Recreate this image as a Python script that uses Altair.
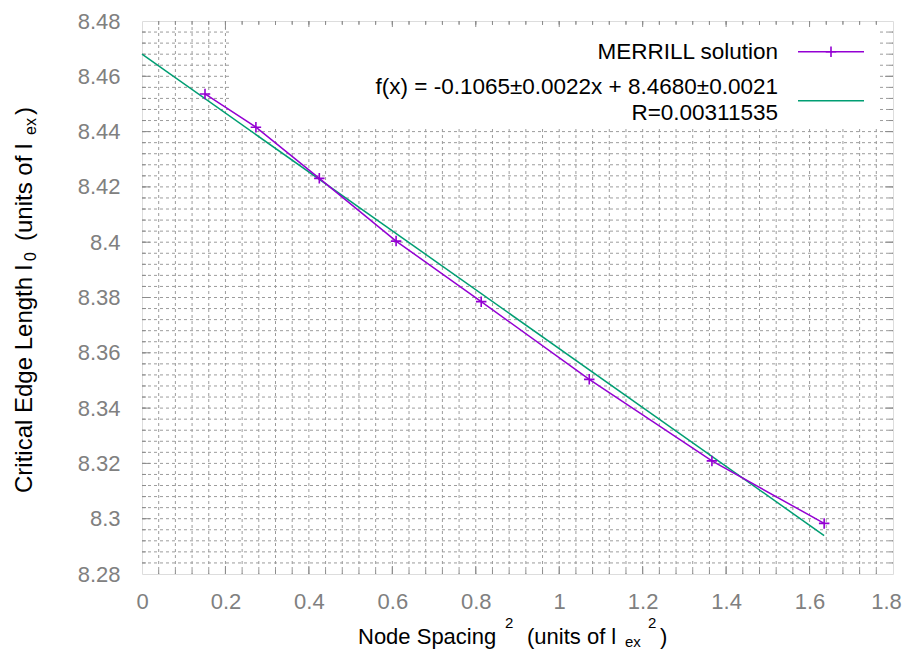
import altair as alt
import pandas as pd

# ---------------- data ----------------
merrill_x = [0.151, 0.273, 0.425, 0.609, 0.813, 1.072, 1.366, 1.635]
merrill_y = [8.4536, 8.4416, 8.4231, 8.4004, 8.3785, 8.3504, 8.3209, 8.2983]
fit_x = [0.0, 1.635]
fit_y = [8.4680, 8.2939]

x_major = [0, 0.2, 0.4, 0.6, 0.8, 1.0, 1.2, 1.4, 1.6, 1.8]
y_major = [8.28, 8.30, 8.32, 8.34, 8.36, 8.38, 8.40, 8.42, 8.44, 8.46, 8.48]
x_minor = [round(0.04 * i, 2) for i in range(1, 45)]
y_minor = [round(8.28 + 0.004 * i, 3) for i in range(1, 50)]

legend_main = "MERRILL solution"
legend_fit1 = "f(x) = -0.1065\u00b10.0022x + 8.4680\u00b10.0021"
legend_fit2 = "R=0.00311535"

# ---------------- style ----------------
W, H = 751, 553
FONT = "Liberation Sans"
PURPLE = "#9400d3"
GREEN = "#009e73"
GRID = "#9c9c9c"
BORDER = "#8c8c8c"
LABEL = "#808080"
PLUS = "M-1,0L1,0M0,-1L0,1"

xs = alt.Scale(domain=[0, 1.8], nice=False, zero=False)
ys = alt.Scale(domain=[8.28, 8.48], nice=False, zero=False)
ax_x = alt.Axis(values=x_major, format="~g", title=None, grid=False, ticks=False,
                domain=False, labelFont=FONT, labelFontSize=22, labelColor=LABEL,
                labelPadding=27, labelBaseline="middle", labelFlush=False,
                labelOffset={"condition": {"test": "datum.value > 1.79", "value": -7},
                             "value": 0})
ax_y = alt.Axis(values=y_major, format="~g", title=None, grid=False, ticks=False,
                domain=False, labelFont=FONT, labelFontSize=22, labelColor=LABEL,
                labelPadding=22, labelFlush=False)

one = pd.DataFrame({"k": [0]})

def X(f):
    return alt.X(f, scale=xs, axis=ax_x)

def Y(f):
    return alt.Y(f, scale=ys, axis=ax_y)

def txt(s, x, y, size=22, color="#000000", angle=0, align="left"):
    return alt.Chart(one).mark_text(
        text=s, font=FONT, fontSize=size, color=color, angle=angle,
        align=align, baseline="alphabetic"
    ).encode(x=alt.value(x), y=alt.value(y))

xmin_df = pd.DataFrame({"v": x_minor})
ymin_df = pd.DataFrame({"v": y_minor})
xmaj_df = pd.DataFrame({"v": x_major[1:-1]})
ymaj_df = pd.DataFrame({"v": y_major[1:-1]})

# grid
vgrid = alt.Chart(xmin_df).mark_rule(color=GRID, strokeWidth=1, strokeDash=[3, 3]).encode(
    x=X("v:Q"), y=alt.value(0), y2=alt.value(H))
hgrid = alt.Chart(ymin_df).mark_rule(color=GRID, strokeWidth=1, strokeDash=[3, 3]).encode(
    y=Y("v:Q"), x=alt.value(0), x2=alt.value(W))

# ticks (inward, mirrored)
def xticks(df, L):
    b = alt.Chart(df).mark_rule(color=BORDER, strokeWidth=1).encode(
        x=X("v:Q"), y=alt.value(H), y2=alt.value(H - L))
    t = alt.Chart(df).mark_rule(color=BORDER, strokeWidth=1).encode(
        x=X("v:Q"), y=alt.value(0), y2=alt.value(L))
    return [b, t]

def yticks(df, L):
    l = alt.Chart(df).mark_rule(color=BORDER, strokeWidth=1).encode(
        y=Y("v:Q"), x=alt.value(0), x2=alt.value(L))
    r = alt.Chart(df).mark_rule(color=BORDER, strokeWidth=1).encode(
        y=Y("v:Q"), x=alt.value(W), x2=alt.value(W - L))
    return [l, r]

ticks = xticks(xmin_df, 4) + xticks(xmaj_df, 8) + yticks(ymin_df, 4) + yticks(ymaj_df, 8)

# key background
keybox = alt.Chart(one).mark_rect(color="white").encode(
    x=alt.value(88), x2=alt.value(738), y=alt.value(6), y2=alt.value(105))

# data
mer_df = pd.DataFrame({"x": merrill_x, "y": merrill_y})
fit_df = pd.DataFrame({"x": fit_x, "y": fit_y})

fit_line = alt.Chart(fit_df).mark_line(color=GREEN, strokeWidth=1.5).encode(
    x=X("x:Q"), y=Y("y:Q"))
mer_line = alt.Chart(mer_df).mark_line(color=PURPLE, strokeWidth=1.5).encode(
    x=X("x:Q"), y=Y("y:Q"))
mer_pts = alt.Chart(mer_df).mark_point(shape=PLUS, size=110, filled=False,
                                       color=PURPLE, strokeWidth=1.6, opacity=1).encode(
    x=X("x:Q"), y=Y("y:Q"))

# legend
leg = [
    txt(legend_main, 636, 37.5, size=22.5, align="right"),
    txt(legend_fit1, 636, 73, size=22.5, align="right"),
    txt(legend_fit2, 636, 99, size=22.5, align="right"),
    alt.Chart(one).mark_rule(color=PURPLE, strokeWidth=1.5).encode(
        x=alt.value(656), x2=alt.value(722), y=alt.value(30.7)),
    alt.Chart(one).mark_point(shape=PLUS, size=110, filled=False, color=PURPLE,
                              strokeWidth=1.6, opacity=1).encode(
        x=alt.value(689), y=alt.value(30.7)),
    alt.Chart(one).mark_rule(color=GREEN, strokeWidth=1.5).encode(
        x=alt.value(656), x2=alt.value(722), y=alt.value(79.7)),
]

# axis titles (with super/subscripts)
XB = 623
xt = [
    txt("Node Spacing", 216, XB),
    txt("2", 363, XB - 16, size=15),
    txt("(units of l", 385, XB),
    txt("ex", 483, XB + 3, size=15),
    txt("2", 506, XB - 16, size=15),
    txt(")", 518, XB),
]
YB = -110
yt = [
    txt("Critical Edge Length l", YB, 472, size=24, angle=270),
    txt("0", YB + 4, 240, size=16, angle=270),
    txt("(units of l", YB, 220, size=24, angle=270),
    txt("ex", YB + 4, 114, size=16, angle=270),
    txt(")", YB, 94, size=24, angle=270),
]

chart = alt.layer(
    vgrid, hgrid, *ticks, keybox, fit_line, mer_line, mer_pts, *leg, *xt, *yt
).properties(
    width=W, height=H,
    padding={"left": 134, "top": 13, "right": 9, "bottom": 77},
    autosize=alt.AutoSizeParams(type="none"),
).configure_view(stroke=BORDER, strokeWidth=1.5).configure(background="white")

chart.save("out.html", embed_options={"renderer": "svg", "actions": False})
